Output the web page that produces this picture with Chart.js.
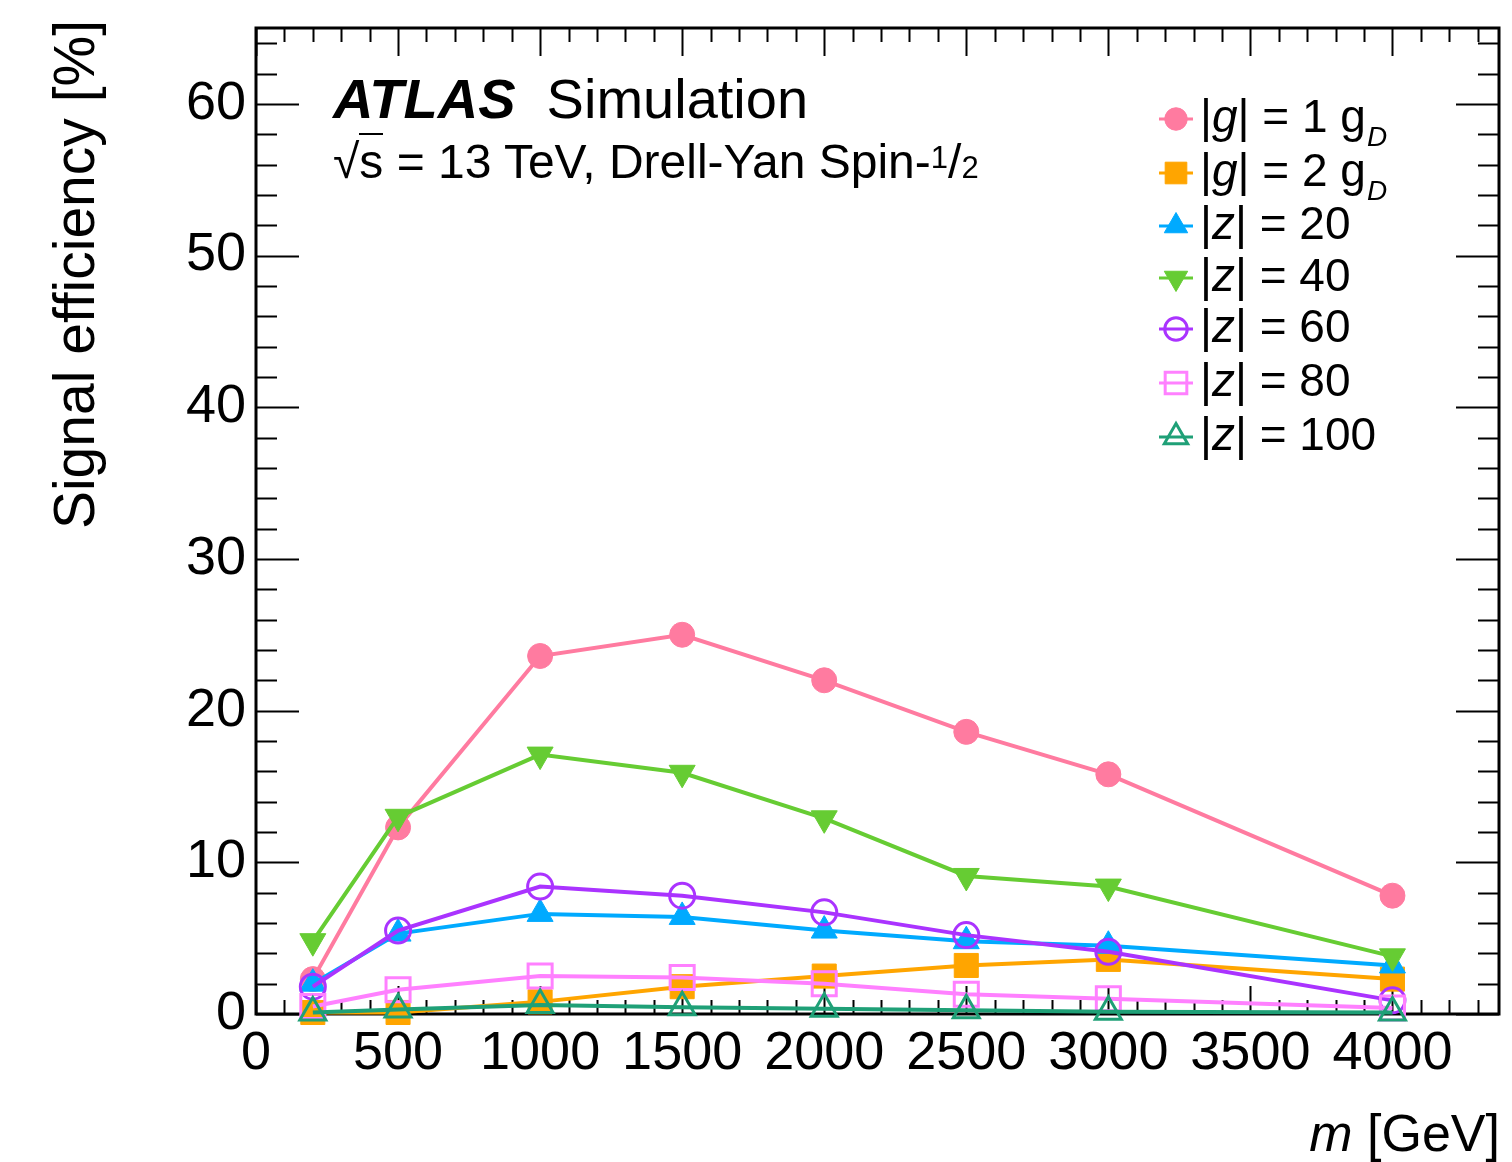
<!DOCTYPE html>
<html>
<head>
<meta charset="utf-8">
<script src="https://cdn.jsdelivr.net/npm/chart.js"></script>
<style>
  body { margin: 0; background: #fff; overflow: hidden; }
  #wrap { position: relative; width: 1512px; height: 1162px; overflow: hidden; font-family: "Liberation Sans", Arial, sans-serif; color: #000; }
  #c { position: absolute; left: 0; top: 0; }
  .txt { position: absolute; white-space: nowrap; line-height: 1; }
  .leg { font-size: 46px; left: 1200px; }
  .sub { position: relative; font-style: italic; font-size: 28px; top: 14px; left: 1px; }
</style>
</head>
<body>
<div id="wrap">
  <!-- canvas is a bit wider than the page: the point overflow padding on the right
       is then pushed past the visible edge -->
  <canvas id="c" width="1529" height="1162"></canvas>

  <div class="txt" style="left:333px; top:71px; font-size:56px;"><b><i>ATLAS</i></b>&nbsp; Simulation</div>
  <div class="txt" style="left:333px; top:138px; font-size:48px;">&radic;<span style="border-top:2px solid #000;">s</span> = 13 TeV, Drell-Yan Spin-<span style="font-size:31px; position:relative; top:-10px;">1</span>/<span style="font-size:31px;">2</span></div>

  <div class="txt leg" style="top:93px;">|<i>g</i>| = 1 g<span class="sub">D</span></div>
  <div class="txt leg" style="top:147px;">|<i>g</i>| = 2 g<span class="sub">D</span></div>
  <div class="txt leg" style="top:200px;">|<i>z</i>| = 20</div>
  <div class="txt leg" style="top:252px;">|<i>z</i>| = 40</div>
  <div class="txt leg" style="top:303px;">|<i>z</i>| = 60</div>
  <div class="txt leg" style="top:357px;">|<i>z</i>| = 80</div>
  <div class="txt leg" style="top:411px;">|<i>z</i>| = 100</div>

  <div class="txt" style="left:46px; top:620px; width:600px; text-align:right; font-size:57px; transform-origin:0 0; transform:rotate(-90deg);">Signal efficiency [%]</div>
  <div class="txt" style="right:12px; top:1107px; font-size:52px;"><i>m</i> [GeV]</div>
</div>

<script>
// masses of the signal points, GeV
let masses = [200, 500, 1000, 1500, 2000, 2500, 3000, 4000];

// efficiencies in %
let effG1 = [2.3, 12.3, 23.6, 25.0, 22.0, 18.6, 15.8, 7.8];
let effG2 = [0.1, 0.1, 0.8, 1.8, 2.5, 3.2, 3.6, 2.3];
let effZ20 = [2.0, 5.3, 6.6, 6.4, 5.5, 4.8, 4.5, 3.2];
let effZ40 = [4.8, 13.0, 17.1, 15.9, 12.9, 9.1, 8.4, 3.8];
let effZ60 = [1.8, 5.5, 8.4, 7.8, 6.7, 5.2, 4.1, 0.9];
let effZ80 = [0.5, 1.6, 2.5, 2.4, 2.0, 1.3, 1.0, 0.4];
let effZ100 = [0.1, 0.3, 0.6, 0.45, 0.35, 0.25, 0.15, 0.1];

let seriesNames = ["|g| = 1 gD", "|g| = 2 gD", "|z| = 20", "|z| = 40", "|z| = 60", "|z| = 80", "|z| = 100"];
let seriesValues = [effG1, effG2, effZ20, effZ40, effZ60, effZ80, effZ100];
let colors = ["#ff7ba0", "#ffa500", "#00aaff", "#66cc33", "#aa33ff", "#ff80ff", "#1fa077"];
let styles = ["circle", "rect", "triangle", "triangle", "circle", "rect", "triangle"];
let rotations = [0, 0, 0, 180, 0, 0, 0];
let filled = [true, true, true, true, false, false, false];

let xTicks = [0, 500, 1000, 1500, 2000, 2500, 3000, 3500, 4000];
let yTicks = [0, 10, 20, 30, 40, 50, 60];

function radiusFor(style) {
    if (style == "rect") return 17;
    if (style == "triangle") return 15;
    return 12.5;
}

let datasets = seriesValues.map((vals, i) => ({
    label: seriesNames[i],
    data: masses.map((m, k) => ({ x: m, y: vals[k] })),
    borderColor: colors[i],
    borderWidth: 4,
    pointStyle: styles[i],
    pointRotation: rotations[i],
    pointRadius: radiusFor(styles[i]),
    pointHoverRadius: 0,
    pointBackgroundColor: filled[i] ? colors[i] : "rgba(0,0,0,0)",
    pointBorderColor: colors[i],
    pointBorderWidth: filled[i] ? 1 : 3,
    tension: 0,
    fill: false,
    clip: false,
    order: 6 - i,
}));

// frame with ROOT style ticks on all four sides
let framePlugin = {
    id: "frame",
    beforeDatasetsDraw(chart) {
        let ctx = chart.ctx;
        let a = chart.chartArea;
        let xs = chart.scales.x;
        let ys = chart.scales.y;
        ctx.save();
        ctx.strokeStyle = "#000";
        ctx.lineWidth = 2;
        for (let v = 0; v <= 4375; v += 100) {
            let px = Math.round(xs.getPixelForValue(v)) + 0.5;
            let len = v % 500 == 0 ? 28 : 14;
            ctx.beginPath();
            ctx.moveTo(px, a.bottom);
            ctx.lineTo(px, a.bottom - len);
            ctx.moveTo(px, a.top);
            ctx.lineTo(px, a.top + len);
            ctx.stroke();
        }
        for (let v = 0; v <= 65; v += 2) {
            let py = Math.round(ys.getPixelForValue(v)) + 0.5;
            let len = v % 10 == 0 ? 43 : 21;
            ctx.beginPath();
            ctx.moveTo(a.left, py);
            ctx.lineTo(a.left + len, py);
            ctx.moveTo(a.right, py);
            ctx.lineTo(a.right - len, py);
            ctx.stroke();
        }
        ctx.lineWidth = 3;
        ctx.strokeRect(a.left, a.top, a.right - a.left, a.bottom - a.top);
        ctx.restore();
    },
    afterDraw(chart) {
        // legend markers, drawn with a short line through them
        let ctx = chart.ctx;
        let rowY = [119, 173, 226, 278, 329, 383, 437];
        ctx.save();
        seriesNames.forEach((n, i) => {
            let cx = 1176;
            let cy = rowY[i];
            ctx.strokeStyle = colors[i];
            ctx.fillStyle = filled[i] ? colors[i] : "rgba(0,0,0,0)";
            ctx.lineWidth = 3;
            ctx.beginPath();
            ctx.moveTo(cx - 17, cy);
            ctx.lineTo(cx + 17, cy);
            ctx.stroke();
            ctx.lineWidth = filled[i] ? 1 : 3;
            Chart.helpers.drawPoint(ctx, {
                pointStyle: styles[i],
                radius: radiusFor(styles[i]) * 0.9,
                rotation: rotations[i],
                borderWidth: filled[i] ? 1 : 3,
            }, cx, cy);
        });
        ctx.restore();
    },
};

let tickFont = { family: "Liberation Sans", size: 54 };

new Chart(document.getElementById("c"), {
    type: "line",
    data: { datasets: datasets },
    options: {
        responsive: false,
        animation: false,
        devicePixelRatio: 1,
        layout: { padding: { top: 28, right: 30, left: 0, bottom: 0 } },
        plugins: { legend: { display: false }, tooltip: { enabled: false } },
        scales: {
            x: {
                type: "linear",
                min: 0,
                max: 4375,
                afterFit(scale) {
                    scale.height = 148;
                    scale.paddingLeft = 0;
                    scale.paddingRight = 0;
                },
                afterBuildTicks(scale) { scale.ticks = xTicks.map((v) => ({ value: v })); },
                grid: { display: false, drawTicks: false },
                border: { display: false },
                ticks: {
                    font: tickFont, color: "#000", padding: 8, maxRotation: 0, autoSkip: false,
                    callback: (v) => String(v),
                },
            },
            y: {
                type: "linear",
                min: 0,
                max: 65,
                afterFit(scale) {
                    scale.width = 256;
                    scale.paddingTop = 0;
                    scale.paddingBottom = 0;
                },
                afterBuildTicks(scale) { scale.ticks = yTicks.map((v) => ({ value: v })); },
                grid: { display: false, drawTicks: false },
                border: { display: false },
                ticks: {
                    font: tickFont, color: "#000", padding: 10, autoSkip: false,
                    callback: (v) => String(v),
                },
            },
        },
    },
    plugins: [framePlugin],
});
</script>
</body>
</html>
